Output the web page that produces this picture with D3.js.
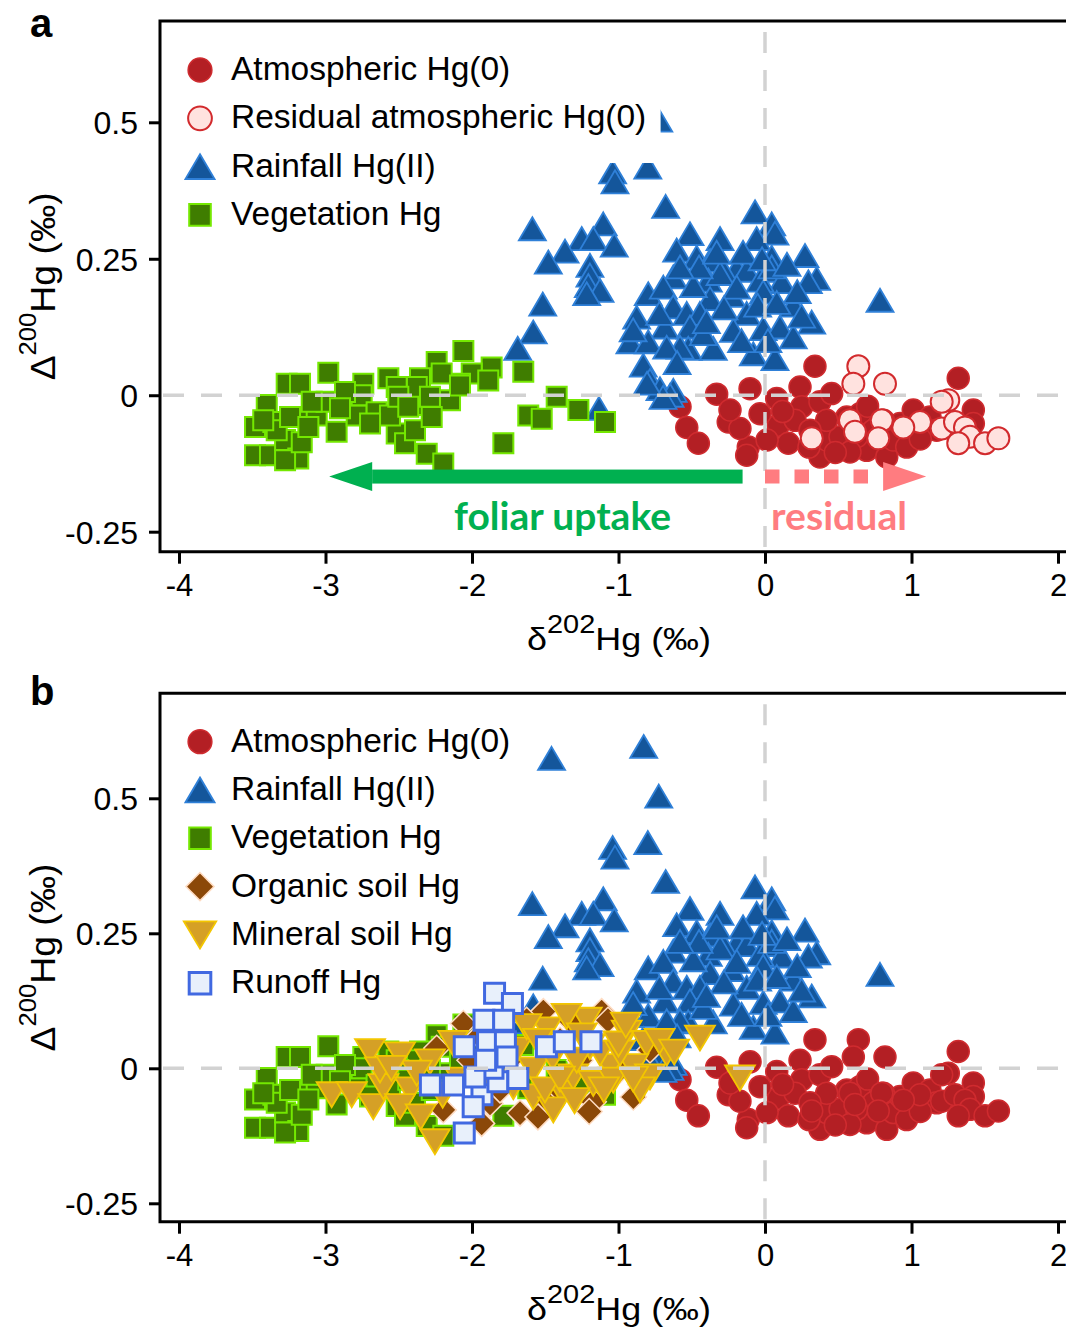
<!DOCTYPE html>
<html><head><meta charset="utf-8">
<script src="https://cdn.jsdelivr.net/npm/d3@7"></script>
<style>body{margin:0;background:#fff}svg{display:block}</style>
</head><body><svg id="c" width="1066" height="1335"></svg>
<script>
// ---------------- DATA ----------------
const xTicks = [-4, -3, -2, -1, 0, 1, 2];
const yTicks = [-0.25, 0, 0.25, 0.5];
const yTickLabels = ["-0.25", "0", "0.25", "0.5"];

const atmospheric = [[0.341,0.053],[-0.330,0.002],[-0.580,-0.021],[-0.534,-0.059],[-0.455,-0.088],[-0.251,-0.049],[-0.102,0.012],[-0.114,-0.095],[-0.125,-0.110],[0.080,-0.006],[0.091,-0.055],[0.159,-0.088],[0.239,0.015],[0.251,-0.021],[0.375,-0.012],[0.455,0.003],[0.375,-0.113],[0.421,-0.082],[0.512,-0.076],[0.558,-0.040],[0.648,-0.034],[0.694,-0.101],[0.739,-0.064],[0.831,-0.113],[0.876,-0.082],[0.922,-0.052],[1.012,-0.027],[0.967,-0.095],[1.126,-0.040],[1.172,-0.064],[1.319,0.031],[1.422,-0.027],[1.422,-0.052],[-0.034,-0.034],[-0.171,-0.061],[0.421,-0.046],[0.808,-0.046],[0.626,-0.076],[0.205,-0.046],[0.307,-0.064],[0.580,-0.104],[0.014,-0.082],[-0.239,-0.027],[0.120,-0.030],[0.300,-0.095],[0.700,-0.020],[1.060,-0.080],[0.480,-0.105]];

const residual = [[0.637,0.053],[0.603,0.021],[0.819,0.021],[1.251,-0.009],[1.206,-0.012],[0.580,-0.046],[0.797,-0.046],[1.058,-0.049],[0.944,-0.059],[0.614,-0.067],[0.773,-0.079],[0.319,-0.079],[1.206,-0.061],[1.297,-0.049],[1.365,-0.059],[1.399,-0.076],[1.319,-0.088],[1.502,-0.088],[1.593,-0.079]];

const rainfall = [[-1.040,0.409],[-1.024,0.391],[-0.800,0.418],[-0.678,0.346],[-1.588,0.305],[-1.104,0.314],[-1.251,0.287],[-1.172,0.287],[-1.029,0.275],[-1.365,0.264],[-1.479,0.244],[-1.195,0.238],[-1.195,0.220],[-1.206,0.201],[-1.126,0.192],[-1.217,0.186],[-1.517,0.167],[-1.582,0.116],[-1.688,0.086],[-0.068,0.336],[0.046,0.314],[0.068,0.297],[-0.512,0.296],[-0.307,0.287],[-0.057,0.287],[-0.603,0.266],[-0.466,0.253],[-0.375,0.247],[0.273,0.256],[0.046,0.253],[-0.193,0.232],[-0.125,0.229],[-0.285,0.229],[0.057,0.229],[0.353,0.214],[0.296,0.208],[-0.626,0.217],[-0.387,0.211],[0.114,0.208],[-0.034,0.211],[-0.797,0.186],[-0.694,0.198],[-0.375,0.177],[-0.227,0.183],[-0.012,0.189],[0.193,0.165],[-0.626,0.162],[-0.534,0.150],[-0.876,0.143],[-0.444,0.150],[-0.125,0.150],[0.319,0.134],[-0.683,0.125],[-0.512,0.125],[-0.216,0.119],[-0.012,0.122],[0.102,0.125],[0.193,0.107],[-0.922,0.098],[-0.797,0.098],[-0.524,0.086],[-0.353,0.086],[-0.580,0.088],[-0.080,0.076],[0.068,0.067],[-0.831,0.055],[-0.785,0.027],[-0.717,0.012],[-0.626,0.009],[-0.307,0.223],[-0.489,0.201],[-0.193,0.198],[0.046,0.235],[-0.421,0.113],[-0.671,0.088],[-0.648,0.000],[-0.696,-0.004],[-0.805,0.022],[0.785,0.174],[-0.725,0.504],[-1.133,-0.024],[-1.457,0.574],[-0.828,0.596],[-0.450,0.235],[-0.330,0.262],[-0.150,0.262],[-0.020,0.250],[0.150,0.240],[0.220,0.190],[-0.280,0.160],[-0.050,0.165],[0.080,0.170],[-0.580,0.235],[-0.720,0.150],[-0.400,0.135],[0.250,0.145],[-0.160,0.100],[0.020,0.100],[-0.900,0.120],[-0.600,0.060]];

const vegetation = [[-2.059,0.081],[-2.241,0.061],[-1.866,0.051],[-1.650,0.043],[-2.002,0.040],[-2.082,0.021],[-1.889,0.027],[-2.207,0.040],[-2.355,0.031],[-2.571,0.031],[-2.742,0.021],[-2.981,0.041],[-3.265,0.021],[-3.174,0.021],[-1.422,-0.003],[-1.274,-0.027],[-1.092,-0.049],[-1.616,-0.037],[-1.524,-0.043],[-1.786,-0.088],[-3.401,-0.018],[-3.481,-0.058],[-3.356,-0.049],[-3.481,-0.110],[-3.379,-0.110],[-3.276,-0.082],[-3.186,-0.116],[-3.276,-0.119],[-3.162,-0.086],[-3.174,-0.040],[-3.060,-0.037],[-2.924,-0.067],[-2.992,-0.012],[-2.787,-0.037],[-2.753,0.000],[-2.651,-0.031],[-2.514,-0.070],[-2.457,-0.088],[-2.367,-0.018],[-2.389,-0.064],[-2.309,-0.107],[-2.196,-0.125],[-2.150,-0.009],[-2.082,0.018],[-2.377,0.015],[-2.514,0.015],[-2.867,0.006],[-3.094,-0.012],[-3.333,-0.064],[-3.425,-0.046],[-2.560,-0.037],[-3.242,-0.040],[-3.117,-0.058],[-2.696,-0.052],[-2.503,-0.003],[-2.287,-0.003],[-2.901,-0.024],[-2.275,-0.040],[-2.435,-0.021]];

const organicSoil = [[-2.059,0.083],[-2.241,0.037],[-2.196,-0.077],[-1.934,-0.102],[-1.672,-0.083],[-1.513,0.105],[-1.331,0.089],[-1.115,0.105],[-1.490,-0.059],[-1.172,-0.062],[-0.899,-0.053],[-1.627,0.089],[-1.877,-0.065],[-1.422,-0.034],[-1.072,0.089],[-1.741,0.015],[-1.263,0.015],[-0.990,-0.003],[-2.014,0.015],[-0.785,0.034],[-1.399,0.052],[-1.809,-0.040],[-1.200,-0.080],[-0.850,-0.030],[-1.550,-0.090],[-1.950,0.060]];

const mineralSoil = [[-2.696,0.031],[-2.491,0.025],[-2.287,0.012],[-2.128,0.046],[-2.958,-0.049],[-2.821,-0.049],[-2.674,-0.071],[-2.605,-0.034],[-2.423,-0.040],[-2.491,-0.071],[-2.253,-0.136],[-2.628,-0.003],[-2.377,-0.009],[-1.582,-0.003],[-1.490,0.071],[-1.377,-0.046],[-1.217,0.089],[-1.195,0.040],[-1.058,0.003],[-0.944,0.065],[-0.808,0.046],[-0.671,0.028],[-0.444,0.056],[-1.582,-0.053],[-1.445,-0.077],[-1.309,-0.016],[-1.172,-0.028],[-1.036,-0.022],[-0.899,0.003],[-0.785,-0.016],[-1.695,0.034],[-1.627,0.077],[-1.285,0.015],[-1.126,0.028],[-0.990,0.028],[-1.718,-0.034],[-1.354,0.096],[-0.171,-0.018],[-2.082,-0.022],[-0.853,-0.040],[-1.502,-0.040],[-1.000,0.045],[-0.720,0.050],[-0.620,0.030],[-0.900,-0.020],[-1.250,0.060],[-1.100,-0.040],[-1.450,0.020],[-1.550,0.050],[-1.800,0.010],[-1.400,-0.020],[-1.950,-0.030],[-2.200,-0.050],[-2.550,0.000],[-2.350,-0.090],[-0.950,0.080],[-1.300,-0.060]];

const runoff = [[-1.846,0.139],[-1.724,0.120],[-1.918,0.089],[-1.784,0.089],[-2.053,0.040],[-1.894,0.049],[-1.772,0.049],[-1.492,0.040],[-1.370,0.049],[-1.188,0.049],[-2.284,-0.031],[-2.126,-0.031],[-1.932,-0.049],[-1.823,-0.025],[-1.687,-0.019],[-1.992,-0.071],[-2.053,-0.120],[-1.857,0.000],[-1.980,-0.016],[-1.761,0.021],[-1.907,0.015]];

const legendA = ["Atmospheric Hg(0)", "Residual atmospheric Hg(0)", "Rainfall Hg(II)", "Vegetation Hg"];
const legendB = ["Atmospheric Hg(0)", "Rainfall Hg(II)", "Vegetation Hg", "Organic soil Hg", "Mineral soil Hg", "Runoff Hg"];

// annotation arrows (data units)
const foliarArrow = {from: -0.153, to: -2.975, y: -0.149};
const residualArrow = {from: 0.0, to: 1.10, y: -0.149};

// ---------------- STYLES ----------------
const FONT = "'Liberation Sans', Arial, sans-serif";
const shapes = {
  circle: r => `M${-r},0a${r},${r} 0 1,0 ${2*r},0a${r},${r} 0 1,0 ${-2*r},0Z`,
  triUp: s => `M0,${-11.5*s}L${13.5*s},${11.5*s}L${-13.5*s},${11.5*s}Z`,
  triDown: s => `M${-15*s},${-12.5*s}L${15*s},${-12.5*s}L0,${12.5*s}Z`,
  square: s => `M${-10*s},${-10*s}h${20*s}v${20*s}h${-20*s}Z`,
  diamond: s => `M0,${-13*s}L${13*s},0L0,${13*s}L${-13*s},0Z`
};
const st = {
  atm:   {shape: s => shapes.circle(11*s), fill: "#b31f24", stroke: "#cf2b2f", sw: 1.5},
  res:   {shape: s => shapes.circle(11*s), fill: "#ffe2df", stroke: "#d22a2d", sw: 2},
  rain:  {shape: s => shapes.triUp(s), fill: "#14569b", stroke: "#2f80d8", sw: 1.8},
  veg:   {shape: s => shapes.square(s), fill: "#3f7d00", stroke: "#74e800", sw: 2},
  org:   {shape: s => shapes.diamond(s), fill: "#8b4808", stroke: "#ffdcc2", sw: 1.5},
  min:   {shape: s => shapes.triDown(s), fill: "#d5a026", stroke: "#f3c600", sw: 1.8},
  run:   {shape: s => shapes.square(s), fill: "#e8f0fb", stroke: "#4169e1", sw: 3}
};

const svg = d3.select('#c');
const x = d3.scaleLinear().domain([-4, 2]).range([179, 1058]);

function panel(cfg) {
  const y = d3.scaleLinear().domain([-0.25, 0.5]).range(cfg.yRange);
  const g = svg.append('g');
  const L = 160, R = 1066;

  cfg.series.forEach(([data, s]) => {
    g.append('g').selectAll('path').data(data).join('path')
      .attr('d', s.shape(1))
      .attr('transform', d => `translate(${x(d[0])},${y(d[1])})`)
      .attr('fill', s.fill).attr('stroke', s.stroke).attr('stroke-width', s.sw);
  });

  g.append('line').attr('x1', L + 3).attr('x2', R).attr('y1', y(0)).attr('y2', y(0))
    .attr('stroke', '#d2d2d2').attr('stroke-width', 3.5).attr('stroke-dasharray', '21,17');
  g.append('line').attr('x1', x(0)).attr('x2', x(0)).attr('y1', cfg.top + 11).attr('y2', cfg.bottom)
    .attr('stroke', '#d2d2d2').attr('stroke-width', 3.5).attr('stroke-dasharray', '21,17');

  (cfg.legendBg || []).forEach(r => {
    g.append('rect').attr('x', r[0]).attr('y', r[1]).attr('width', r[2]).attr('height', r[3]).attr('fill', '#fff');
  });

  cfg.legend.forEach((lab, i) => {
    const cy = cfg.legendY0 + i * 48.3;
    const s = cfg.legendStyles[i];
    g.append('path').attr('d', s.shape(1.08)).attr('transform', `translate(200,${cy})`)
      .attr('fill', s.fill).attr('stroke', s.stroke).attr('stroke-width', s.sw);
    g.append('text').attr('x', 231).attr('y', cy + 10).text(lab)
      .attr('font-family', FONT).attr('font-size', 33.5).attr('fill', '#000');
  });

  g.append('path').attr('d', `M${R},${cfg.top}H${L}V${cfg.bottom}H${R}`)
    .attr('fill', 'none').attr('stroke', '#000').attr('stroke-width', 3);

  const ax = g.append('g').attr('transform', `translate(0,${cfg.bottom})`)
    .call(d3.axisBottom(x).tickValues(xTicks).tickSize(12).tickFormat(d => String(d)));
  ax.select('.domain').remove();
  ax.selectAll('line').attr('stroke', '#000').attr('stroke-width', 3);
  ax.selectAll('text').attr('y', 44).attr('dy', null).attr('font-family', FONT)
    .attr('font-size', 31).attr('fill', '#000');

  const ay = g.append('g').attr('transform', `translate(${L},0)`)
    .call(d3.axisLeft(y).tickValues(yTicks).tickSize(11).tickFormat((d, i) => yTickLabels[i]));
  ay.select('.domain').remove();
  ay.selectAll('line').attr('stroke', '#000').attr('stroke-width', 3);
  ay.selectAll('text').attr('x', -22).attr('dy', '0.36em').attr('font-family', FONT)
    .attr('font-size', 32).attr('fill', '#000');

  const xt = g.append('text').attr('x', 619).attr('y', cfg.bottom + 98)
    .attr('text-anchor', 'middle').attr('font-family', FONT).attr('font-size', 31)
    .attr('textLength', 184).attr('lengthAdjust', 'spacingAndGlyphs');
  xt.append('tspan').text('δ');
  xt.append('tspan').attr('font-size', 25).attr('dy', -17).text('202');
  xt.append('tspan').attr('dy', 17).text('Hg (‰)');

  const yc = (cfg.top + cfg.bottom) / 2;
  const yt = g.append('text').attr('transform', `translate(55,${yc}) rotate(-90)`)
    .attr('text-anchor', 'middle').attr('font-family', FONT).attr('font-size', 35)
    .attr('textLength', 188).attr('lengthAdjust', 'spacingAndGlyphs');
  yt.append('tspan').text('Δ');
  yt.append('tspan').attr('font-size', 24).attr('dy', -19).text('200');
  yt.append('tspan').attr('dy', 19).text('Hg (‰)');

  g.append('text').attr('x', 30).attr('y', cfg.letterY).text(cfg.letter)
    .attr('font-family', FONT).attr('font-weight', 700)
    .attr('font-size', 40).attr('fill', '#000');

  return {g, y};
}

const pa = panel({
  top: 21, bottom: 551.7, yRange: [531.7, 122.3],
  series: [[atmospheric, st.atm], [residual, st.res], [rainfall, st.rain], [vegetation, st.veg]],
  legend: legendA, legendStyles: [st.atm, st.res, st.rain, st.veg], legendY0: 70,
  legendBg: [[175, 40, 485.6, 123], [175, 148, 280, 102]],
  letter: 'a', letterY: 37
});

(function () {
  const g = pa.g, y = pa.y;
  const ya = y(foliarArrow.y);
  const green = '#00b050', pink = '#ff7c80';
  const headLen = 43, headH = 29, thick = 14;
  const tip = x(foliarArrow.to);
  g.append('rect').attr('x', tip + headLen).attr('y', ya - thick / 2)
    .attr('width', x(foliarArrow.from) - tip - headLen).attr('height', thick).attr('fill', green);
  g.append('path').attr('d', `M${tip},${ya}L${tip + headLen},${ya - headH / 2}L${tip + headLen},${ya + headH / 2}Z`).attr('fill', green);

  const rtip = x(residualArrow.to), rs = x(residualArrow.from);
  g.append('line').attr('x1', rs).attr('x2', rtip - headLen - 14).attr('y1', ya).attr('y2', ya)
    .attr('stroke', pink).attr('stroke-width', thick).attr('stroke-dasharray', '14.5,15');
  g.append('path').attr('d', `M${rtip},${ya}L${rtip - headLen},${ya - headH / 2}L${rtip - headLen},${ya + headH / 2}Z`).attr('fill', pink);

  g.append('text').attr('x', 454).attr('y', 530).text('foliar uptake')
    .attr('font-family', "Lato, 'Open Sans', sans-serif").attr('font-weight', 700).attr('font-size', 39)
    .attr('fill', green).attr('textLength', 217).attr('lengthAdjust', 'spacingAndGlyphs');
  g.append('text').attr('x', 771).attr('y', 530).text('residual')
    .attr('font-family', "Lato, 'Open Sans', sans-serif").attr('font-weight', 700).attr('font-size', 39)
    .attr('fill', pink).attr('textLength', 136).attr('lengthAdjust', 'spacingAndGlyphs');
})();

panel({
  top: 693.3, bottom: 1221.7, yRange: [1203.3, 798.3],
  series: [[atmospheric.concat(residual), st.atm], [rainfall, st.rain], [vegetation, st.veg],
           [organicSoil, st.org], [mineralSoil, st.min], [runoff, st.run]],
  legend: legendB, legendStyles: [st.atm, st.rain, st.veg, st.org, st.min, st.run], legendY0: 741.7,
  letter: 'b', letterY: 705
});
</script>
</body></html>
